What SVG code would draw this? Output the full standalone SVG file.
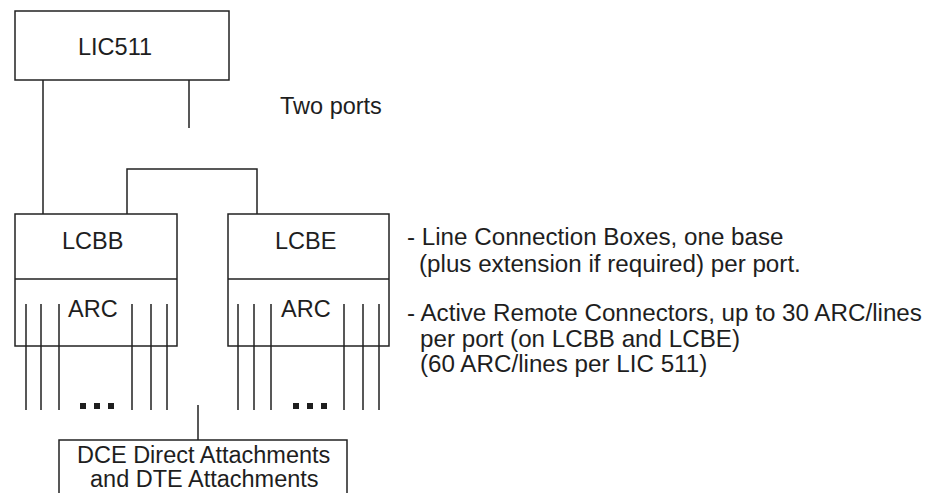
<svg xmlns="http://www.w3.org/2000/svg" width="925" height="493" viewBox="0 0 925 493">
<style>
.b{fill:#fff;stroke:#222;stroke-width:1.5}
.l{fill:none;stroke:#222;stroke-width:1.5}
text{font-family:"Liberation Sans",Arial,sans-serif;font-size:23.5px;fill:#1e1e1e}
.n{font-size:24.2px}
.d{fill:#1e1e1e}
</style>
<rect width="925" height="493" fill="#fff"/>
<g id="connectors">
<path class="l" d="M43 80V214M189 80V128M127 214V169H257V214M198 405V440"/>
</g>
<g id="lic511">
<rect class="b" x="15" y="11" width="214" height="69"/>
<text x="78" y="55">LIC511</text>
</g>
<text id="two-ports" x="280" y="114">Two ports</text>
<g id="lcbb">
<rect class="b" x="15" y="214" width="162" height="132"/>
<path class="l" d="M15 279H177M26 304V410M41 304V410M59 304V410M132 304V410M151 304V410M167 304V410"/>
<text x="62" y="249">LCBB</text>
<text x="68" y="317">ARC</text>
<rect class="d" x="80" y="403" width="6" height="6"/>
<rect class="d" x="94" y="403" width="6" height="6"/>
<rect class="d" x="108" y="403" width="6" height="6"/>
</g>
<g id="lcbe">
<rect class="b" x="228" y="214" width="161" height="132"/>
<path class="l" d="M228 279H389M238 304V410M254 304V410M271 304V410M344 304V410M363 304V410M379 304V410"/>
<text x="275" y="249">LCBE</text>
<text x="281" y="317">ARC</text>
<rect class="d" x="293" y="403" width="6" height="6"/>
<rect class="d" x="307" y="403" width="6" height="6"/>
<rect class="d" x="321" y="403" width="6" height="6"/>
</g>
<g id="dce">
<path class="b" d="M59 500V440H347V500"/>
<text x="77" y="463">DCE Direct Attachments</text>
<text x="90" y="487">and DTE Attachments</text>
</g>
<g id="notes">
<text class="n" x="407" y="245">- Line Connection Boxes, one base</text>
<text class="n" x="419" y="272">(plus extension if required) per port.</text>
<text class="n" x="407" y="321">- Active Remote Connectors, up to 30 ARC/lines</text>
<text class="n" x="420" y="347">per port (on LCBB and LCBE)</text>
<text class="n" x="420" y="372">(60 ARC/lines per LIC 511)</text>
</g>
</svg>
